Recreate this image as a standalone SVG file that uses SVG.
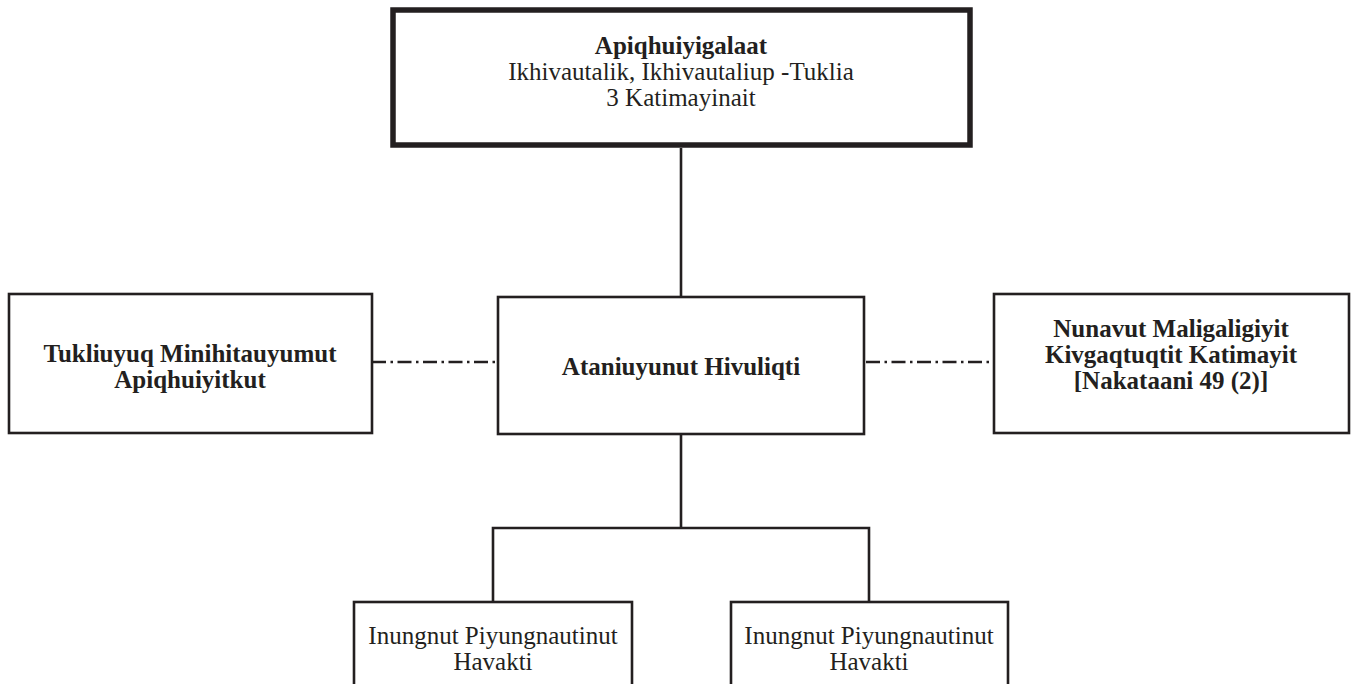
<svg xmlns="http://www.w3.org/2000/svg" width="1357" height="684" viewBox="0 0 1357 684">
<style>
.box{fill:#fff;stroke:#231f20;stroke-width:2.6}
.top{fill:#fff;stroke:#231f20;stroke-width:5.5}
.ln{fill:none;stroke:#231f20;stroke-width:2.6}
.dd{fill:none;stroke:#231f20;stroke-width:2.4;stroke-dasharray:14 4.5 2.5 4.5}
text{font-family:"Liberation Serif","Times New Roman",serif;font-size:25px;fill:#231f20;text-anchor:middle}
.b{font-weight:bold}
</style>
<rect width="1357" height="684" fill="#fff"/>
<g id="connectors">
<line class="ln" x1="681" y1="148" x2="681" y2="297"/>
<line class="ln" x1="681" y1="433" x2="681" y2="528"/>
<polyline class="ln" points="493,602 493,528 869,528 869,602"/>
<line class="dd" x1="372" y1="362" x2="497" y2="362"/>
<line class="dd" x1="866" y1="362" x2="993" y2="362"/>
</g>
<g id="node-top">
<rect class="top" x="393" y="10" width="577" height="135"/>
<text class="b" x="681" y="54">Apiqhuiyigalaat</text>
<text x="681" y="80">Ikhivautalik, Ikhivautaliup -Tuklia</text>
<text x="681" y="106">3 Katimayinait</text>
</g>
<g id="node-left">
<rect class="box" x="9" y="294" width="363" height="139"/>
<text class="b" x="190" y="362">Tukliuyuq Minihitauyumut</text>
<text class="b" x="190" y="388">Apiqhuiyitkut</text>
</g>
<g id="node-center">
<rect class="box" x="498" y="297" width="366" height="137"/>
<text class="b" x="681" y="375">Ataniuyunut Hivuliqti</text>
</g>
<g id="node-right">
<rect class="box" x="994" y="294" width="355" height="139"/>
<text class="b" x="1171" y="337">Nunavut Maligaligiyit</text>
<text class="b" x="1171" y="363">Kivgaqtuqtit Katimayit</text>
<text class="b" x="1171" y="389">[Nakataani 49 (2)]</text>
</g>
<g id="node-bottom-left">
<rect class="box" x="354" y="602" width="278" height="100"/>
<text x="493" y="644">Inungnut Piyungnautinut</text>
<text x="493" y="670">Havakti</text>
</g>
<g id="node-bottom-right">
<rect class="box" x="731" y="602" width="277" height="100"/>
<text x="869" y="644">Inungnut Piyungnautinut</text>
<text x="869" y="670">Havakti</text>
</g>
</svg>
